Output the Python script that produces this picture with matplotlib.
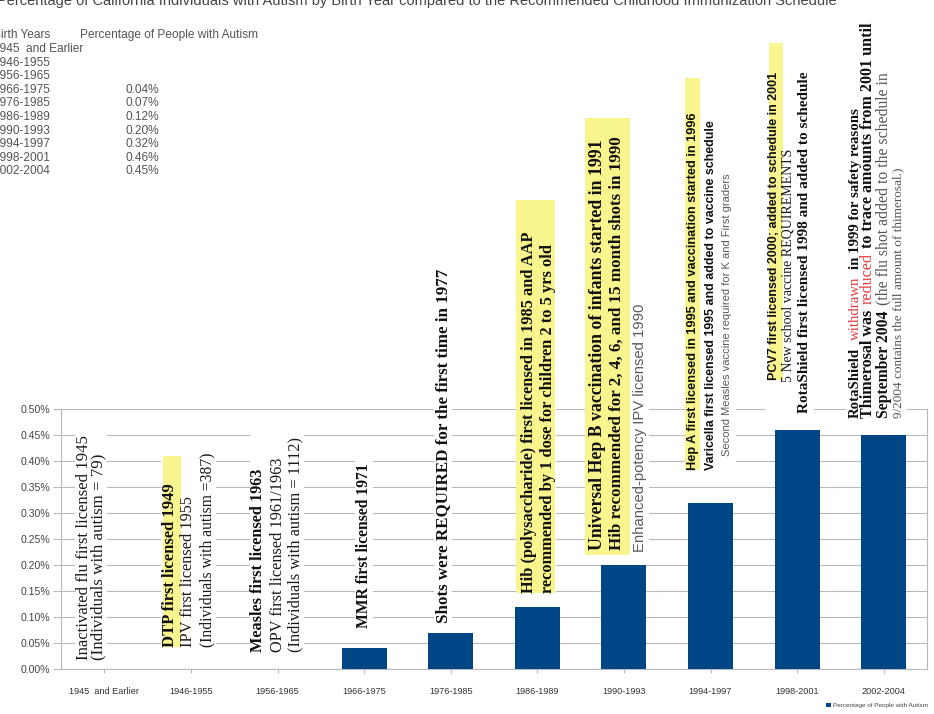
import matplotlib
matplotlib.use("Agg")
import matplotlib.pyplot as plt
from matplotlib.patches import Rectangle
from matplotlib.ticker import MultipleLocator, FuncFormatter

# ---------------- data ----------------
title = ("Percentage of California Individuals with Autism by Birth Year "
         "compared to the Recommended Childhood Immunization Schedule")
series_name = "Percentage of People with Autism"
table_header = ["Birth Years", "Percentage of People with Autism"]
birth_years = ["1945  and Earlier", "1946-1955", "1956-1965", "1966-1975", "1976-1985",
               "1986-1989", "1990-1993", "1994-1997", "1998-2001", "2002-2004"]
autism_pct = [None, None, None, 0.04, 0.07, 0.12, 0.20, 0.32, 0.46, 0.45]
y_max = 0.50
y_step = 0.05

# annotation text (per category): list of lines, each line = list of (text, style)
annotations = {
    0: [[("Inactivated flu first licensed 1945", "sn")],
        [("(Individuals with autism = 79)", "sn")]],
    1: [[("DTP first licensed 1949", "sb")],
        [("IPV first licensed 1955", "sn")],
        [("(Individuals with autism =387)", "sn")]],
    2: [[("Measles first licensed 1963", "sb")],
        [("OPV first licensed 1961/1963", "sn")],
        [("(Individuals with autism = 1112)", "sn")]],
    3: [[("MMR first licensed 1971", "sb")]],
    4: [[("Shots were REQUIRED for the first time in 1977", "sb")]],
    5: [[("Hib (polysaccharide) first licensed in 1985 and AAP", "sb")],
        [("recommended by 1 dose for children 2 to 5 yrs old", "sb")]],
    6: [[("Universal Hep B vaccination of infants started in 1991", "sb")],
        [("Hib recommended for 2, 4, 6, and 15 month shots in 1990", "sb")],
        [("Enhanced-potency IPV licensed 1990", "gl")]],
    7: [[("Hep A first licensed in 1995 and vaccination started in 1996", "nb")],
        [("Varicella first licensed 1995 and added to vaccine schedule", "nb")],
        [("Second Measles vaccine required for K and First graders", "gl")]],
    8: [[("PCV7 first licensed 2000; added to schedule in 2001", "nb")],
        [("5 New school vaccine REQUIREMENTS", "sn")],
        [("RotaShield first licensed 1998 and added to schedule", "sb")]],
    9: [[("RotaShield", "sb"), ("withdrawn", "rd"), ("in 1999 for safety reasons", "sb")],
        [("Thimerosal was", "sb"), ("reduced", "rd"), ("to trace amounts from 2001 until", "sb")],
        [("September 2004", "sb"), ("(the flu shot added to the schedule in", "gs")],
        [("9/2004 contains the full amount of thimerosal.)", "gs")]],
}

# ---------------- layout / style (positions, not data) ----------------
# per line: (x offset from category centre, y bottom, y top) in axis data units
line_pos = {
    0: [(-0.24, 0.017, 0.450), (-0.07, 0.017, 0.412)],
    1: [(-0.24, 0.042, 0.358), (-0.03, 0.042, 0.331), (0.19, 0.042, 0.415)],
    2: [(-0.22, 0.033, 0.388), (0.00, 0.033, 0.406), (0.21, 0.033, 0.446)],
    3: [(0.00, 0.079, 0.396)],
    4: [(-0.09, 0.088, 0.771)],
    5: [(-0.10, 0.146, 0.844), (0.12, 0.146, 0.821)],
    6: [(-0.31, 0.229, 1.017), (-0.08, 0.229, 1.027), (0.19, 0.225, 0.704)],
    7: [(-0.20, 0.383, 1.075), (0.00, 0.383, 1.050), (0.19, 0.410, 0.954)],
    8: [(-0.27, 0.556, 1.148), (-0.10, 0.552, 1.000), (0.09, 0.492, 1.148)],
    9: [(-0.33, 0.483, 1.080), (-0.18, 0.483, 1.248), (0.00, 0.483, 1.146), (0.17, 0.483, 0.965)],
}
line_gap = {(9, 0): 0.5}   # wider word gaps (em) around the red word
highlights = {  # (dx0, dx1, y0, y1)
    1: (-0.32, -0.12, 0.042, 0.41),
    5: (-0.25, 0.21, 0.146, 0.902),
    6: (-0.45, 0.07, 0.219, 1.06),
    7: (-0.30, -0.12, 0.383, 1.137),
    8: (-0.33, -0.16, 0.556, 1.204),
}
STY = {
    "sn": dict(family="Liberation Serif", color="#1a1a1a"),
    "sb": dict(family="Liberation Serif", weight="bold", color="#111111"),
    "nb": dict(family=["Liberation Sans Narrow", "Liberation Sans"], weight="bold", color="#111111"),
    "gl": dict(family="Liberation Sans", color="#5a5a5a"),
    "gs": dict(family="Liberation Serif", color="#555555"),
    "rd": dict(family="Liberation Serif", color="#e23c3c"),
}
BAR_COLOR = "#004586"
GRID = "#b8b8b8"
W, H, DPI = 934, 714, 100

fig = plt.figure(figsize=(W / DPI, H / DPI), dpi=DPI)
ax = fig.add_axes([61 / W, 1 - 669 / H, 866 / W, 260 / H])

xs = [i for i, v in enumerate(autism_pct) if v is not None]
vals = [v for v in autism_pct if v is not None]
ax.bar(xs, vals, width=0.52, color=BAR_COLOR, zorder=3, label=series_name)

ax.set_xlim(-0.5, len(birth_years) - 0.5)
ax.set_ylim(0, y_max)
ax.yaxis.set_major_locator(MultipleLocator(y_step))
ax.yaxis.set_major_formatter(FuncFormatter(lambda v, p: f"{v:.2f}%"))
ax.set_xticks(range(len(birth_years)))
ax.set_xticklabels(birth_years, fontsize=6.6, color="#333333", family="Liberation Sans")
ax.tick_params(axis="x", length=3, color=GRID, pad=10)
ax.tick_params(axis="y", length=6, color=GRID, pad=1.5, labelsize=7.6, labelcolor="#444444")
for lab in ax.get_yticklabels():
    lab.set_family("Liberation Sans")
ax.grid(axis="y", color=GRID, lw=0.8)
ax.set_axisbelow(True)
ax.spines["top"].set_visible(False)
for s in ("left", "right", "bottom"):
    ax.spines[s].set_color(GRID)
    ax.spines[s].set_linewidth(0.8)

# title (clipped at top, like the screenshot)
fig.text(-3 / W, 1 - 1 / H, title, fontsize=10.5, color="#444444", family="Liberation Sans",
         ha="left", va="center")

# data table in top-left
tab_kw = dict(fontsize=8.6, color="#555555", family="Liberation Sans", va="center")
fig.text(-7 / W, 1 - 35 / H, table_header[0], ha="left", **tab_kw)
fig.text(80 / W, 1 - 35 / H, table_header[1], ha="left", **tab_kw)
for i, (lab, v) in enumerate(zip(birth_years, autism_pct)):
    yy = 1 - (49 + 13.6 * i) / H
    fig.text(-7 / W, yy, lab, ha="left", **tab_kw)
    if v is not None:
        fig.text(125 / W, yy, f"{v:.2f}%", ha="left", **tab_kw)

# legend
ax.legend(loc="lower right", bbox_to_anchor=(1.0, 0.0), bbox_transform=fig.transFigure,
          frameon=False, prop=dict(family="Liberation Sans", size=4.6),
          handlelength=0.8, handleheight=0.8, handletextpad=0.3, borderpad=0.4,
          labelcolor="#444444")

# ---------------- rotated annotations ----------------
fig.canvas.draw()
rend = fig.canvas.get_renderer()


def make_segments(segs, fs):
    arts = []
    for txt, st in segs:
        t = ax.text(0, 0, txt, rotation=90, ha="center", va="bottom", fontsize=fs,
                    clip_on=False, zorder=6, **STY[st])
        arts.append(t)
    return arts


def place_line(xd, yb, yt, segs, gap_em=0.32, base=10.0):
    arts = make_segments(segs, base)
    lens = [a.get_window_extent(rend).height for a in arts]
    gap = gap_em * base * DPI / 72
    total = sum(lens) + gap * (len(arts) - 1)
    X, y0 = ax.transData.transform((xd, yb))
    _, y1 = ax.transData.transform((xd, yt))
    scale = (y1 - y0) / total
    for a in arts:
        a.remove()
    fs = base * scale
    arts = make_segments(segs, fs)
    lens = [a.get_window_extent(rend).height for a in arts]
    gap *= scale
    ycur = y0
    inv = ax.transData.inverted()
    for a, L in zip(arts, lens):
        a.set_position(tuple(inv.transform((X, ycur))))
        ycur += L + gap


for cat, lines in annotations.items():
    pos = line_pos[cat]
    # white text-box background hiding the grid lines
    dxs = [p[0] for p in pos]
    ybot = min(p[1] for p in pos)
    ytop = max(p[2] for p in pos)
    ax.add_patch(Rectangle((cat + min(dxs) - 0.1, ybot - 0.005), max(dxs) - min(dxs) + 0.2,
                           ytop - ybot + 0.01, facecolor="white", edgecolor="none",
                           zorder=2, clip_on=False))
    if cat in highlights:
        d0, d1, h0, h1 = highlights[cat]
        ax.add_patch(Rectangle((cat + d0, h0), d1 - d0, h1 - h0, facecolor="#f8f58f",
                               edgecolor="none", zorder=4, clip_on=False))
    for k, ((dx, yb, yt), segs) in enumerate(zip(pos, lines)):
        place_line(cat + dx, yb, yt, segs, gap_em=line_gap.get((cat, k), 0.32))

fig.savefig("out.png", dpi=DPI)
